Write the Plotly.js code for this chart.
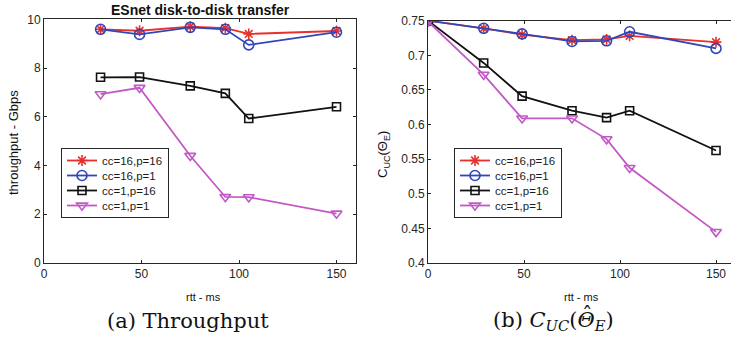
<!DOCTYPE html>
<html>
<head>
<meta charset="utf-8">
<script src="https://cdn.plot.ly/plotly-3.0.1.min.js"></script>
<style>html,body{margin:0;padding:0;background:#fff;}#chart{width:731px;height:347px;}</style>
</head>
<body>
<div id="chart"></div>
<script>
// ---- data ----
const seriesNames = ["cc=16,p=16", "cc=16,p=1", "cc=1,p=16", "cc=1,p=1"];
const rttThroughput = [29, 49, 75, 93, 105, 150];
const thrCC16P16 = [9.59, 9.53, 9.70, 9.64, 9.40, 9.52];
const thrCC16P1  = [9.59, 9.38, 9.67, 9.59, 8.95, 9.47];
const thrCC1P16  = [7.62, 7.63, 7.27, 6.96, 5.93, 6.41];
const thrCC1P1   = [6.93, 7.19, 4.40, 2.71, 2.70, 2.03];

const rttCuc = [0, 29, 49, 75, 93, 105, 150];
const cucCC16P16 = [0.75, 0.739, 0.730, 0.722, 0.723, 0.728, 0.719];
const cucCC16P1  = [0.75, 0.739, 0.731, 0.720, 0.721, 0.734, 0.710];
const cucCC1P16  = [0.75, 0.689, 0.641, 0.620, 0.610, 0.620, 0.5625];
const cucCC1P1   = [0.749, 0.672, 0.609, 0.609, 0.579, 0.5375, 0.445];

const xTicks = [0, 50, 100, 150];
const yTicksA = [0, 2, 4, 6, 8, 10];
const yTicksB = [0.4, 0.45, 0.5, 0.55, 0.6, 0.65, 0.7, 0.75];
const yTickTextB = ["0.4", "0.45", "0.5", "0.55", "0.6", "0.65", "0.7", "0.75"];

// ---- styles ----
const W = 731, H = 347;
const colors = ["#e8302a", "#3346b8", "#111111", "#c259c6"];
const symbols = ["asterisk-open", "circle-open", "square-open", "triangle-down-open"];
const msizes = [9, 10, 8, 9.5];
const axisColor = "#262626";
const px = v => v / W;
const py = v => 1 - v / H;

const thrSeries = [thrCC16P16, thrCC16P1, thrCC1P16, thrCC1P1];
const cucSeries = [cucCC16P16, cucCC16P1, cucCC1P16, cucCC1P1];

const traces = [];
thrSeries.forEach((ys, i) => {
  traces.push({
    x: rttThroughput, y: ys, name: seriesNames[i], type: "scatter", mode: "lines+markers",
    xaxis: "x", yaxis: "y", legend: "legend",
    line: {color: colors[i], width: 1.8},
    marker: {symbol: symbols[i], size: msizes[i], color: colors[i], line: {color: colors[i], width: 1.6}}
  });
});
cucSeries.forEach((ys, i) => {
  traces.push({
    x: rttCuc, y: ys, name: seriesNames[i], type: "scatter", mode: "lines+markers",
    xaxis: "x2", yaxis: "y2", legend: "legend2",
    line: {color: colors[i], width: 1.8},
    marker: {symbol: symbols[i], size: msizes[i], color: colors[i], line: {color: colors[i], width: 1.6}}
  });
});

const sans = "Liberation Sans, Arial, sans-serif";
const serif = "DejaVu Serif, serif";
const tickFont = {family: sans, size: 12, color: axisColor};
const baseAxis = {
  showline: true, linecolor: axisColor, linewidth: 1, ticks: "inside", ticklen: 3,
  tickcolor: axisColor, showgrid: false, zeroline: false, tickfont: tickFont, fixedrange: true
};
const legendBase = {
  font: {family: sans, size: 11.5, color: "#1a1a1a"},
  bgcolor: "#ffffff", bordercolor: axisColor, borderwidth: 1,
  xanchor: "left", yanchor: "top", itemwidth: 30, tracegroupgap: 0
};

const ann = (x, y, text, font, extra) => Object.assign({
  xref: "paper", yref: "paper", x: px(x), y: py(y), text: text, showarrow: false,
  xanchor: "center", yanchor: "middle", font: font
}, extra || {});

const captionFont = {family: serif, size: 21, color: "#111"};
const layout = {
  width: W, height: H, autosize: false,
  margin: {l: 0, r: 0, t: 0, b: 0},
  paper_bgcolor: "#ffffff", plot_bgcolor: "#ffffff",
  showlegend: true,
  xaxis: Object.assign({}, baseAxis, {domain: [px(44), px(356)], range: [0, 160], tickvals: xTicks, mirror: "ticks", anchor: "y"}),
  yaxis: Object.assign({}, baseAxis, {domain: [py(263), py(19.3)], range: [0, 10], tickvals: yTicksA, mirror: "ticks", anchor: "x"}),
  xaxis2: Object.assign({}, baseAxis, {domain: [px(428), 1], range: [0, 157.8], tickvals: xTicks, mirror: "ticks", anchor: "y2"}),
  yaxis2: Object.assign({}, baseAxis, {domain: [py(263), py(20.7)], range: [0.4, 0.75], tickvals: yTicksB, ticktext: yTickTextB, mirror: false, anchor: "x2"}),
  legend: Object.assign({}, legendBase, {x: px(61), y: py(148)}),
  legend2: Object.assign({}, legendBase, {x: px(454), y: py(148)}),
  annotations: [
    ann(200, 10, "<b>ESnet disk-to-disk transfer</b>", {family: sans, size: 14, color: "#111"}),
    ann(203, 297, "rtt - ms", {family: sans, size: 11, color: "#111"}),
    ann(581, 297, "rtt - ms", {family: sans, size: 11, color: "#111"}),
    ann(13, 143, "throughput - Gbps", {family: sans, size: 13, color: "#111"}, {textangle: -90}),
    ann(383, 154, "C<sub>UC</sub>(Θ<sub>E</sub>)", {family: sans, size: 13, color: "#111"}, {textangle: -90}),
    ann(188, 321, "(a) Throughput", captionFont),
    ann(553, 321, "(b) <i>C</i><sub><i>UC</i></sub>(<i>Θ</i><sub><i>E</i></sub>)", captionFont)
  ]
};

// tighten legend row spacing (Plotly enforces a 19px minimum row height)
function compactLegends() {
  const first = 12.5, step = 15, bottomPad = 11.5;
  document.querySelectorAll("#chart g.legend, #chart g.legend2").forEach(lg => {
    const items = Array.from(lg.querySelectorAll("g.traces"));
    if (!items.length) return;
    items.forEach((it, i) => {
      const m = /translate\(\s*([-\d.e]+)[\s,]*([-\d.e]+)?\s*\)/.exec(it.getAttribute("transform") || "");
      const tx = m ? parseFloat(m[1]) : 1;
      it.setAttribute("transform", "translate(" + tx + "," + (first + i * step) + ")");
    });
    const bg = lg.querySelector("rect.bg");
    if (bg) bg.setAttribute("height", first + (items.length - 1) * step + bottomPad);
  });
}

function hatPosition() {
  const svg = document.querySelector("#chart svg.main-svg");
  const sr = svg.getBoundingClientRect();
  const els = Array.from(document.querySelectorAll("#chart text")).filter(t => t.textContent.indexOf("(b)") === 0);
  if (!els.length) return null;
  const el = els[0];
  const idx = el.textContent.indexOf("Θ");
  const ext = el.getExtentOfChar(idx);
  const p = new DOMPoint(ext.x + ext.width / 2, ext.y).matrixTransform(el.getScreenCTM());
  return p.x - sr.left;
}

Plotly.newPlot("chart", traces, layout, {staticPlot: true, displayModeBar: false}).then(gd => {
  const cx = hatPosition();
  if (cx === null) { compactLegends(); return; }
  const anns = layout.annotations.concat([ann(cx + 1.5, 315, "ˆ", captionFont)]);
  return Plotly.relayout(gd, {annotations: anns}).then(() => {
    compactLegends();
    setTimeout(compactLegends, 50);
  });
});
</script>
</body>
</html>
